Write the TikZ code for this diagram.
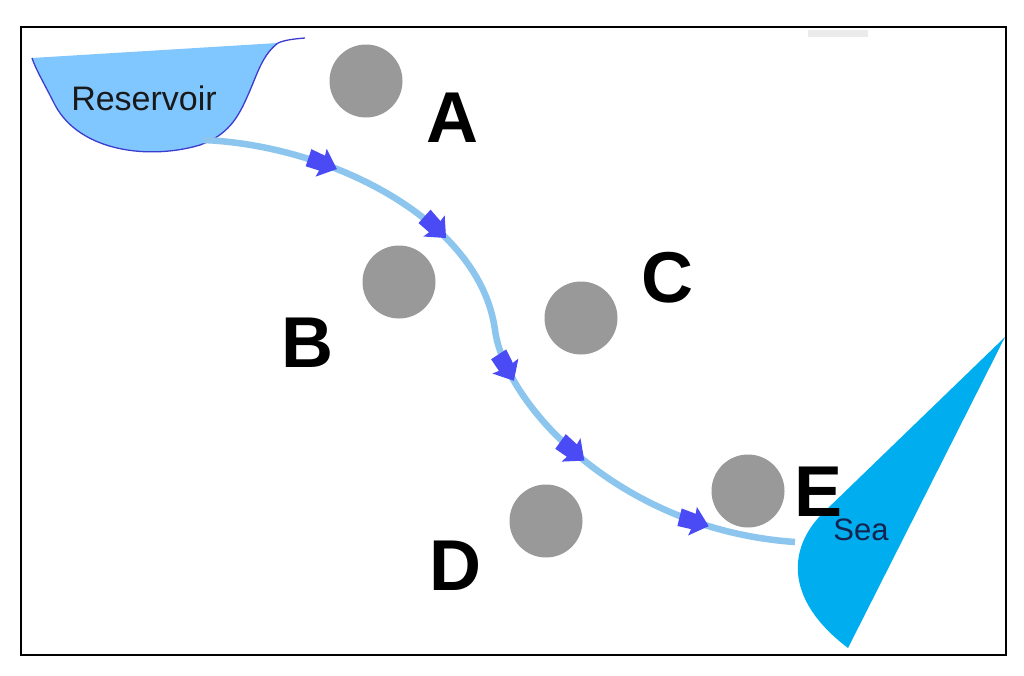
\documentclass[tikz,border=0pt]{standalone}
\usepackage{fontspec}
\setmainfont{Liberation Sans}
\usetikzlibrary{decorations.markings}
\definecolor{resfill}{RGB}{128,198,255}
\definecolor{resline}{RGB}{60,60,205}
\definecolor{seablue}{RGB}{0,174,239}
\definecolor{flowline}{RGB}{140,198,238}
\definecolor{arrowblue}{RGB}{75,75,245}
\definecolor{dotgray}{RGB}{153,153,153}
\definecolor{seatext}{RGB}{20,35,80}
\newcommand\flowhead{\fill[arrowblue] (0pt,0pt) -- (-17pt,15pt) -- (-16pt,8pt) -- (-31pt,9pt) -- (-30pt,-9pt) -- (-16pt,-8pt) -- (-17pt,-15pt) -- cycle;}
\tikzset{
  dot/.style={circle, fill=dotgray, draw=none, minimum size=73pt, inner sep=0pt},
  bigletter/.style={font=\fontsize{72}{72}\selectfont\bfseries, inner sep=0pt, text=black},
  flow/.style={draw=flowline, line width=6.5pt,
    decoration={markings,
      mark=at position 0.18 with {\flowhead},
      mark=at position 0.35 with {\flowhead},
      mark=at position 0.56 with {\flowhead},
      mark=at position 0.70 with {\flowhead},
      mark=at position 0.885 with {\flowhead}},
    postaction=decorate},
}
\begin{document}
\begin{tikzpicture}[x=1pt,y=-1pt]
\useasboundingbox (0,0) rectangle (1024,675);
\fill[white] (0,0) rectangle (1024,675);
% faint grey strip at top
\fill[black!8] (808,30) rectangle (868,37);
% reservoir
\fill[resfill] (32,58) -- (278,43) .. controls (262,55) and (257,75) .. (248,95)
  .. controls (238,118) and (228,135) .. (200,145)
  .. controls (150,160) and (80,152) .. (55,105)
  .. controls (45,85) and (36,70) .. (32,58) -- cycle;
\draw[resline, line width=1.3pt] (305,38) .. controls (293,39) and (285,40) .. (278,43)
  .. controls (262,55) and (257,75) .. (248,95)
  .. controls (238,118) and (228,135) .. (200,145)
  .. controls (150,160) and (80,152) .. (55,105)
  .. controls (45,85) and (36,70) .. (32,58);
\node[inner sep=0pt, font=\fontsize{34}{34}\selectfont, text=black!90] (res) at (144,98) {Reservoir};
% sea
\fill[seablue] (1005,337) -- (826,510) .. controls (788,545) and (782,598) .. (848,648) -- cycle;
% flow
\coordinate (src) at (203,140);
\coordinate (mid) at (495,330);
\coordinate (dst) at (795,542);
\draw[flow] (src) .. controls (330,145) and (480,220) .. (mid)
  .. controls (505,405) and (620,530) .. (dst);
% dots
\node[dot] (ca) at (366,81) {};
\node[dot] (cb) at (399,282) {};
\node[dot] (cc) at (581,318) {};
\node[dot] (cd) at (546,521) {};
\node[dot] (ce) at (748,491) {};
% letters
\node[bigletter] (la) at (452,118) {A};
\node[bigletter] (lb) at (307,343) {B};
\node[bigletter] (lc) at (667,278) {C};
\node[bigletter] (ld) at (455,566) {D};
\node[bigletter] (le) at (818,492) {E};
\node[inner sep=0pt, font=\fontsize{31}{31}\selectfont, text=seatext] (sea) at (861,530) {Sea};
% frame
\draw[black, line width=2pt] (21,27) rectangle (1006,655);
\end{tikzpicture}
\end{document}
